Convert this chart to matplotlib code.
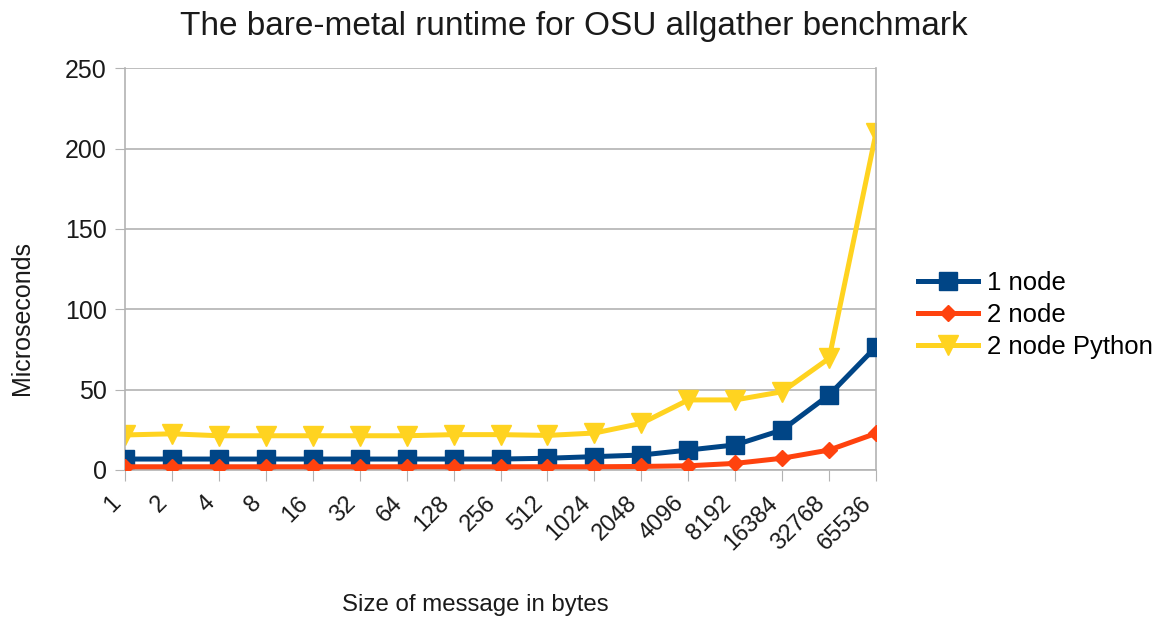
import matplotlib
matplotlib.use("Agg")
import matplotlib.pyplot as plt
from matplotlib.ticker import MultipleLocator

plt.rcParams['font.family'] = ['Liberation Sans', 'DejaVu Sans']

# Message sizes (bytes) and measured latencies (microseconds)
sizes = ['1', '2', '4', '8', '16', '32', '64', '128', '256', '512', '1024',
         '2048', '4096', '8192', '16384', '32768', '65536']
one_node = [6.8, 6.8, 6.8, 6.8, 6.8, 6.8, 6.8, 6.8, 6.8, 7.3, 8.3, 9.3,
            12.4, 15.6, 24.9, 46.7, 76.7]
two_node = [2.0, 2.0, 2.0, 2.0, 2.0, 2.0, 2.0, 2.0, 2.0, 2.0, 2.0, 2.2,
            2.6, 4.1, 7.3, 12.4, 22.8]
two_node_python = [21.8, 22.5, 21.3, 21.3, 21.3, 21.3, 21.3, 22.0, 22.0,
                   21.5, 23.0, 29.0, 43.6, 43.6, 48.7, 69.5, 210.0]

series_names = ['1 node', '2 node', '2 node Python']

fig = plt.figure(figsize=(11.65, 6.21), dpi=100)
ax = fig.add_axes([0.1073, 0.2432, 0.6447, 0.6468])

x = range(len(sizes))
ax.plot(x, one_node, color='#004586', lw=3.6, marker='s', ms=13,
        label=series_names[0], zorder=3)
ax.plot(x, two_node, color='#ff420e', lw=3.6, marker='D', ms=8,
        label=series_names[1], zorder=4)
ax.plot(x, two_node_python, color='#ffd320', lw=3.6, marker='v', ms=14,
        label=series_names[2], zorder=2)

ax.set_xlim(0, len(sizes) - 1)
ax.set_ylim(0, 250)
ax.yaxis.set_major_locator(MultipleLocator(50))
ax.set_xticks(list(x))
ax.set_xticklabels(sizes, rotation=45, ha='right', fontsize=17)
ax.tick_params(axis='y', labelsize=18, length=7, color='#b3b3b3', pad=6)
ax.tick_params(axis='x', length=8, color='#b3b3b3', pad=8)
for lbl in ax.get_yticklabels():
    lbl.set_color('#1a1a1a')
for lbl in ax.get_xticklabels():
    lbl.set_color('#1a1a1a')

ax.grid(axis='y', color='#b3b3b3', lw=1.2, zorder=0)
ax.set_axisbelow(True)
for side in ['left', 'right', 'bottom']:
    ax.spines[side].set_color('#b3b3b3')
    ax.spines[side].set_linewidth(1.2)
ax.spines['top'].set_visible(False)

fig.text(574 / 1165, 1 - 35 / 621,
         'The bare-metal runtime for OSU allgather benchmark',
         ha='center', va='baseline', fontsize=24, color='#1a1a1a')
fig.text(475 / 1165, 1 - 611 / 621, 'Size of message in bytes',
         ha='center', va='baseline', fontsize=17.3, color='#1a1a1a')
fig.text(22 / 1165, 1 - 318 / 621, 'Microseconds', rotation=90,
         ha='center', va='center', fontsize=18, color='#1a1a1a')

fig.legend(loc='center left', bbox_to_anchor=(918 / 1165, 1 - 315 / 621),
           frameon=False, fontsize=18.5, handlelength=2.35, handletextpad=0.35,
           labelspacing=0.32, borderpad=0, borderaxespad=0)

fig.savefig('out.png', dpi=100)
